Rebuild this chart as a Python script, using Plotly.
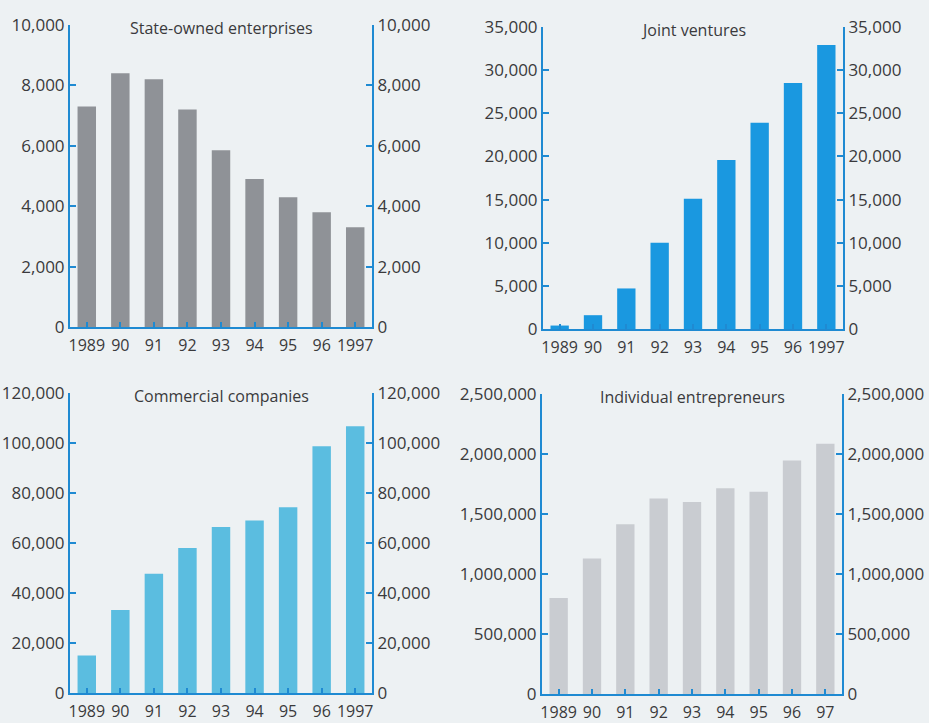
import plotly.graph_objects as go

years_full = ["1989", "90", "91", "92", "93", "94", "95", "96", "1997"]
years_short = ["1989", "90", "91", "92", "93", "94", "95", "96", "97"]

state_owned = [7300, 8400, 8200, 7200, 5850, 4900, 4300, 3800, 3300]
joint_ventures = [400, 1600, 4700, 10000, 15100, 19600, 23900, 28500, 32900]
commercial = [15000, 33200, 47700, 58000, 66400, 69000, 74300, 98700, 106700]
individual = [800000, 1130000, 1415000, 1630000, 1600000, 1715000, 1685000, 1945000, 2085000]

titles = ["State-owned enterprises", "Joint ventures", "Commercial companies", "Individual entrepreneurs"]
colors = ["#8f9297", "#1a98e0", "#5bbde0", "#c9ccd1"]
ranges = [10000, 35000, 120000, 2500000]
dticks = [2000, 5000, 20000, 500000]
series = [state_owned, joint_ventures, commercial, individual]
cats = [years_full, years_full, years_full, years_short]

W, H = 929, 723
# pixel boxes: (x0, x1, ytop, ybottom)
boxes = [(70, 372, 25, 327), (543, 843, 27, 329), (70, 372, 393, 693), (542, 842, 394, 694)]

AX = "#1f8ad2"
TXT = "#3a3a3c"
FONT = "Open Sans"

fig = go.Figure()
layout = dict(
    width=W, height=H, margin=dict(l=0, r=0, t=0, b=0, pad=0),
    paper_bgcolor="#edf1f3", plot_bgcolor="rgba(0,0,0,0)",
    showlegend=False,
    font=dict(family=FONT, color=TXT, size=16),
    annotations=[],
)

for i in range(4):
    x0, x1, yt, yb = boxes[i]
    xd = [x0 / W, x1 / W]
    yd = [1 - yb / H, 1 - yt / H]
    xn = "x" if i == 0 else f"x{i+1}"
    yl = 2 * i + 1
    yr = 2 * i + 2
    yln = "y" if yl == 1 else f"y{yl}"
    yrn = f"y{yr}"
    fig.add_trace(go.Bar(x=list(range(9)), y=series[i], marker_color=colors[i],
                         marker_line_width=0, xaxis=xn, yaxis=yln, width=0.55))
    fig.add_trace(go.Scatter(x=[None], y=[None], xaxis=xn, yaxis=yrn, showlegend=False))
    xkey = "xaxis" if i == 0 else f"xaxis{i+1}"
    ylkey = "yaxis" if yl == 1 else f"yaxis{yl}"
    yrkey = f"yaxis{yr}"
    layout[xkey] = dict(
        domain=xd, anchor=yln, range=[-0.5, 8.5], automargin=False,
        tickmode="array", tickvals=list(range(9)), ticktext=cats[i],
        ticks="inside", tickson="boundaries", ticklen=5, tickwidth=1.5, tickcolor=AX,
        showline=True, linecolor=AX, linewidth=2, showgrid=False, zeroline=False,
        tickfont=dict(size=16, color=TXT, family=FONT), fixedrange=True,
        ticklabelstandoff=3,
    )
    layout[ylkey] = dict(
        domain=yd, anchor=xn, range=[0, ranges[i]], dtick=dticks[i], tick0=0,
        automargin=False,
        tickformat=",d", ticks="inside", ticklen=6, tickwidth=1.5, tickcolor=AX,
        showline=True, linecolor=AX, linewidth=2, showgrid=False, zeroline=False,
        tickfont=dict(size=17, color=TXT, family=FONT), side="left", fixedrange=True,
    )
    layout[yrkey] = dict(
        domain=yd, anchor=xn, overlaying=yln, side="right", range=[0, ranges[i]],
        automargin=False,
        dtick=dticks[i], tick0=0, tickformat=",d", ticks="inside", ticklen=6,
        tickwidth=1.5, tickcolor=AX, showline=True, linecolor=AX, linewidth=2,
        showgrid=False, zeroline=False, tickfont=dict(size=17, color=TXT, family=FONT),
        fixedrange=True,
    )
    layout["annotations"].append(dict(
        text=titles[i], xref="paper", yref="paper", x=(x0 + x1) / 2 / W,
        y=1 - (yt + 3) / H, xanchor="center", yanchor="middle", showarrow=False,
        font=dict(size=16, color=TXT, family=FONT),
    ))

fig.update_layout(**layout)
fig.write_html("out.html", config={"displayModeBar": False},
               post_script="document.body.style.margin='0';document.body.style.padding='0';document.body.style.background='#edf1f3';")
